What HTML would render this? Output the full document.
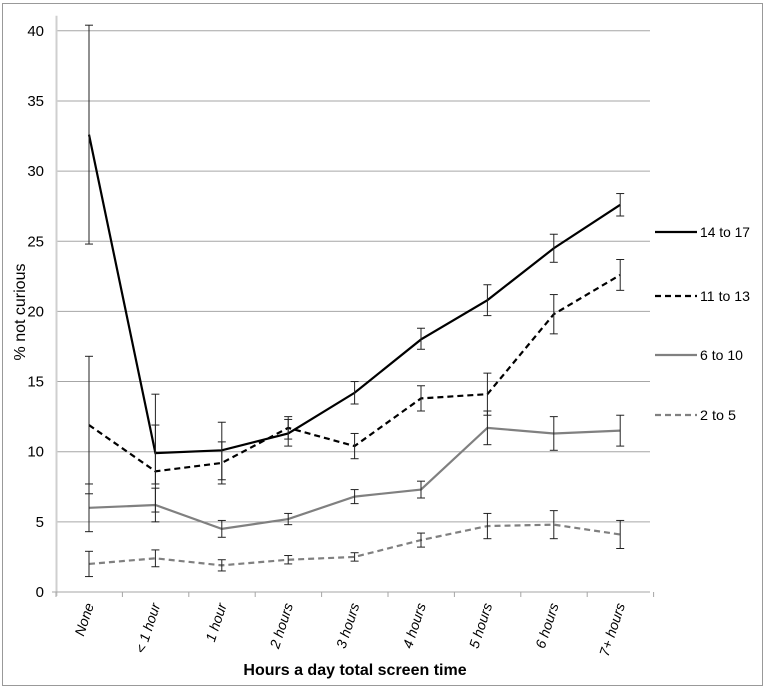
<!DOCTYPE html>
<html><head><meta charset="utf-8"><style>
body{margin:0;background:#fff}
text{font-family:"Liberation Sans",sans-serif;}
</style></head><body>
<svg id="s" width="766" height="689" xmlns="http://www.w3.org/2000/svg">
<rect x="2.5" y="3.5" width="760" height="682" fill="#fff" stroke="#999"/>
</svg>
<script>
const s=document.getElementById('s');
const NS='http://www.w3.org/2000/svg';
function el(t,a,txt){const e=document.createElementNS(NS,t);for(const k in a)e.setAttribute(k,a[k]);if(txt!=null)e.textContent=txt;s.appendChild(e);return e;}
const X=i=>89+i*66.4, Y=v=>592-v*14.03;
for(let v=5;v<=40;v+=5)el('line',{x1:56,x2:650,y1:Y(v),y2:Y(v),stroke:'#a6a6a6','stroke-width':1});
el('line',{x1:56.5,x2:56.5,y1:Y(40)-15,y2:596,stroke:'#cfcfcf','stroke-width':2});
el('line',{x1:52,x2:650,y1:592,y2:592,stroke:'#a6a6a6'});
for(let i=0;i<=9;i++)el('line',{x1:56+i*66.4,x2:56+i*66.4,y1:592,y2:597,stroke:'#a6a6a6'});
for(let v=0;v<=40;v+=5)el('text',{x:44,y:Y(v)+5,'text-anchor':'end','font-size':15,fill:'#000'},v);
const cats=['None','< 1 hour','1 hour','2 hours','3 hours','4 hours','5 hours','6 hours','7+ hours'];
cats.forEach((c,i)=>el('text',{transform:`translate(${X(i)+5},605) rotate(-72)`,'text-anchor':'end','font-size':14,'font-style':'italic'},c));
el('text',{x:355,y:675,'text-anchor':'middle','font-size':16,'font-weight':'bold'},'Hours a day total screen time');
el('text',{transform:'translate(25,312) rotate(-90)','text-anchor':'middle','font-size':16},'% not curious');
const series=[
{c:'#000',d:'',v:[[32.6,24.8,40.4],[9.9,7.7,14.1],[10.1,8.0,12.1],[11.3,10.4,12.3],[14.2,13.4,15.0],[18.0,17.3,18.8],[20.8,19.7,21.9],[24.5,23.5,25.5],[27.6,26.8,28.4]]},
{c:'#000',d:'6,4',v:[[11.9,7.0,16.8],[8.6,5.7,11.9],[9.2,7.7,10.7],[11.7,10.9,12.5],[10.4,9.5,11.3],[13.8,12.9,14.7],[14.1,12.6,15.6],[19.8,18.4,21.2],[22.6,21.5,23.7]]},
{c:'#808080',d:'',v:[[6.0,4.3,7.7],[6.2,5.0,7.4],[4.5,3.9,5.1],[5.2,4.8,5.6],[6.8,6.3,7.3],[7.3,6.7,7.9],[11.7,10.5,12.9],[11.3,10.1,12.5],[11.5,10.4,12.6]]},
{c:'#808080',d:'6,4',v:[[2.0,1.1,2.9],[2.4,1.8,3.0],[1.9,1.5,2.3],[2.3,2.0,2.6],[2.5,2.2,2.8],[3.7,3.2,4.2],[4.7,3.8,5.6],[4.8,3.8,5.8],[4.1,3.1,5.1]]}];
series.forEach(se=>{
 el('polyline',{points:se.v.map((p,i)=>X(i)+','+Y(p[0])).join(' '),fill:'none',stroke:se.c,'stroke-width':2.2,'stroke-dasharray':se.d});
});
series.forEach(se=>se.v.forEach((p,i)=>{const x=X(i);
 el('line',{x1:x,x2:x,y1:Y(p[1]),y2:Y(p[2]),stroke:'#222','stroke-width':1});
 el('line',{x1:x-4,x2:x+4,y1:Y(p[1]),y2:Y(p[1]),stroke:'#222','stroke-width':1});
 el('line',{x1:x-4,x2:x+4,y1:Y(p[2]),y2:Y(p[2]),stroke:'#222','stroke-width':1});
}));
const lg=[['14 to 17',232,50],['11 to 13',296,50],['6 to 10',355,43],['2 to 5',415,36]];
lg.forEach((l,k)=>{const se=series[k];
 el('line',{x1:655,x2:697,y1:l[1],y2:l[1],stroke:se.c,'stroke-width':2.2,'stroke-dasharray':se.d});
 el('text',{x:700,y:l[1]+5,'font-size':14,textLength:l[2],lengthAdjust:'spacingAndGlyphs'},l[0]);});
</script>
</body></html>
